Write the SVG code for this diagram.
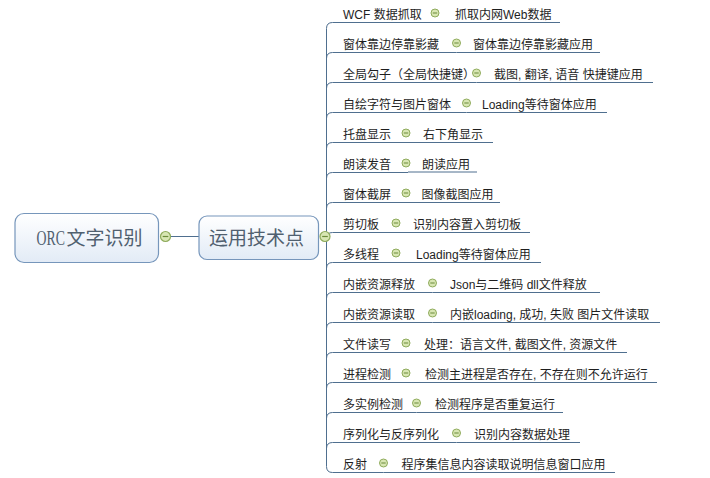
<svg xmlns="http://www.w3.org/2000/svg" xmlns:xlink="http://www.w3.org/1999/xlink" width="710" height="478" viewBox="0 0 710 478">
<defs>
<linearGradient id="boxfill" x1="0" y1="0" x2="0" y2="1">
<stop offset="0" stop-color="#ffffff"/>
<stop offset="1" stop-color="#e2ebf6"/>
</linearGradient>
<g id="tog">
<circle r="4" fill="#d8e6b3" stroke="#8fab5c" stroke-width="1"/>
<line x1="-2.2" y1="0" x2="2.2" y2="0" stroke="#6b8a3a" stroke-width="1"/>
</g>
<g id="togbig">
<circle r="5" fill="#d8e6b3" stroke="#8fab5c" stroke-width="1.2"/>
<line x1="-2.8" y1="0" x2="2.8" y2="0" stroke="#6b8a3a" stroke-width="1.2"/>
</g>
</defs>
<style>
.ln{fill:none;stroke:#4f6f8f;stroke-width:1}
.t{font-family:"Liberation Sans","Noto Sans CJK SC",sans-serif;font-size:12px;fill:#1e1e1e}
.box{fill:url(#boxfill);stroke:#7696bb;stroke-width:1.2}
.big{font-family:"Noto Sans CJK SC",sans-serif;font-size:19px;fill:#50606f}
.lat{font-family:"Liberation Serif",serif;font-size:20px;fill:#50606f}
</style>
<rect width="710" height="478" fill="#ffffff"/>

<g id="connectors">
<line class="ln" x1="167" y1="236.5" x2="199" y2="236.5"/>
<path class="ln" d="M326.5,28.5 V466.5"/>
<path class="ln" d="M326.5,28.5 Q326.5,22.5 332.5,22.5"/>
<path class="ln" d="M326.5,58.5 Q326.5,52.5 332.5,52.5"/>
<path class="ln" d="M326.5,88.5 Q326.5,82.5 332.5,82.5"/>
<path class="ln" d="M326.5,118.5 Q326.5,112.5 332.5,112.5"/>
<path class="ln" d="M326.5,148.5 Q326.5,142.5 332.5,142.5"/>
<path class="ln" d="M326.5,178.5 Q326.5,172.5 332.5,172.5"/>
<path class="ln" d="M326.5,208.5 Q326.5,202.5 332.5,202.5"/>
<path class="ln" d="M326.5,238.5 Q326.5,232.5 332.5,232.5"/>
<path class="ln" d="M326.5,268.5 Q326.5,262.5 332.5,262.5"/>
<path class="ln" d="M326.5,298.5 Q326.5,292.5 332.5,292.5"/>
<path class="ln" d="M326.5,328.5 Q326.5,322.5 332.5,322.5"/>
<path class="ln" d="M326.5,358.5 Q326.5,352.5 332.5,352.5"/>
<path class="ln" d="M326.5,388.5 Q326.5,382.5 332.5,382.5"/>
<path class="ln" d="M326.5,418.5 Q326.5,412.5 332.5,412.5"/>
<path class="ln" d="M326.5,448.5 Q326.5,442.5 332.5,442.5"/>
<path class="ln" d="M326.5,466.5 Q326.5,472.5 332.5,472.5"/>
</g>

<g id="root">
<rect class="box" x="15" y="213.5" width="143.5" height="49" rx="9"/>
<text class="lat" transform="translate(36.5,244.5) scale(0.69,1)">ORC</text>
<text x="66.5" y="244.5" class="big">文字识别</text>
<use xlink:href="#togbig" x="165.5" y="236.5"/>
</g>

<g id="main">
<rect class="box" x="199" y="216" width="119.5" height="43.5" rx="8"/>
<text x="256.5" y="244.5" class="big" text-anchor="middle">运用技术点</text>
<use xlink:href="#togbig" x="325" y="236.5"/>
</g>

<g id="n1"><line class="ln" x1="332.5" y1="22.5" x2="435" y2="22.5"/><text class="t" x="343" y="18.5">WCF 数据抓取</text><use xlink:href="#tog" x="435" y="13"/></g>
<g id="n1s"><line class="ln" x1="435" y1="22.5" x2="560" y2="22.5"/><text class="t" x="455" y="18.5">抓取内网Web数据</text></g>

<g id="n2"><line class="ln" x1="332.5" y1="52.5" x2="456.5" y2="52.5"/><text class="t" x="343" y="48.5">窗体靠边停靠影藏</text><use xlink:href="#tog" x="456.5" y="43"/></g>
<g id="n2s"><line class="ln" x1="456.5" y1="52.5" x2="600" y2="52.5"/><text class="t" x="473" y="48.5">窗体靠边停靠影藏应用</text></g>

<g id="n3"><line class="ln" x1="332.5" y1="82.5" x2="476.5" y2="82.5"/><text class="t" x="343" y="78.5">全局勾子（全局快捷键）</text><use xlink:href="#tog" x="476.5" y="73"/></g>
<g id="n3s"><line class="ln" x1="476.5" y1="82.5" x2="653" y2="82.5"/><text class="t" x="494" y="78.5">截图, 翻译, 语音 快捷键应用</text></g>

<g id="n4"><line class="ln" x1="332.5" y1="112.5" x2="466.5" y2="112.5"/><text class="t" x="343" y="108.5">自绘字符与图片窗体</text><use xlink:href="#tog" x="466.5" y="103"/></g>
<g id="n4s"><line class="ln" x1="466.5" y1="112.5" x2="607" y2="112.5"/><text class="t" x="482" y="108.5">Loading等待窗体应用</text></g>

<g id="n5"><line class="ln" x1="332.5" y1="142.5" x2="406" y2="142.5"/><text class="t" x="343" y="138.5">托盘显示</text><use xlink:href="#tog" x="406" y="133"/></g>
<g id="n5s"><line class="ln" x1="406" y1="142.5" x2="493" y2="142.5"/><text class="t" x="423" y="138.5">右下角显示</text></g>

<g id="n6"><line class="ln" x1="332.5" y1="172.5" x2="408" y2="172.5"/><text class="t" x="343" y="168.5">朗读发音</text><use xlink:href="#tog" x="406" y="163"/></g>
<g id="n6s"><line class="ln" x1="408" y1="172" x2="477" y2="172"/><text class="t" x="422" y="168.5">朗读应用</text></g>

<g id="n7"><line class="ln" x1="332.5" y1="202.5" x2="406" y2="202.5"/><text class="t" x="343" y="198.5">窗体截屏</text><use xlink:href="#tog" x="406" y="193"/></g>
<g id="n7s"><line class="ln" x1="406" y1="202.5" x2="500" y2="202.5"/><text class="t" x="421.5" y="198.5">图像截图应用</text></g>

<g id="n8"><line class="ln" x1="332.5" y1="232.5" x2="396" y2="232.5"/><text class="t" x="343" y="228.5">剪切板</text><use xlink:href="#tog" x="396" y="223"/></g>
<g id="n8s"><line class="ln" x1="396" y1="232.5" x2="530" y2="232.5"/><text class="t" x="413" y="228.5">识别内容置入剪切板</text></g>

<g id="n9"><line class="ln" x1="332.5" y1="262.5" x2="396" y2="262.5"/><text class="t" x="343" y="258.5">多线程</text><use xlink:href="#tog" x="396" y="253"/></g>
<g id="n9s"><line class="ln" x1="396" y1="262.5" x2="541" y2="262.5"/><text class="t" x="416" y="258.5">Loading等待窗体应用</text></g>

<g id="n10"><line class="ln" x1="332.5" y1="292.5" x2="432.5" y2="292.5"/><text class="t" x="343" y="288.5">内嵌资源释放</text><use xlink:href="#tog" x="432.5" y="283"/></g>
<g id="n10s"><line class="ln" x1="432.5" y1="292.5" x2="600" y2="292.5"/><text class="t" x="450" y="288.5">Json与二维码 dll文件释放</text></g>

<g id="n11"><line class="ln" x1="332.5" y1="322.5" x2="432.5" y2="322.5"/><text class="t" x="343" y="318.5">内嵌资源读取</text><use xlink:href="#tog" x="432.5" y="313"/></g>
<g id="n11s"><line class="ln" x1="432.5" y1="322.5" x2="660" y2="322.5"/><text class="t" x="450" y="318.5">内嵌loading, 成功, 失败 图片文件读取</text></g>

<g id="n12"><line class="ln" x1="332.5" y1="352.5" x2="406" y2="352.5"/><text class="t" x="343" y="348.5">文件读写</text><use xlink:href="#tog" x="406" y="343"/></g>
<g id="n12s"><line class="ln" x1="406" y1="352.5" x2="627" y2="352.5"/><text class="t" x="424" y="348.5">处理：语言文件, 截图文件, 资源文件</text></g>

<g id="n13"><line class="ln" x1="332.5" y1="382.5" x2="406" y2="382.5"/><text class="t" x="343" y="378.5">进程检测</text><use xlink:href="#tog" x="406" y="373"/></g>
<g id="n13s"><line class="ln" x1="406" y1="382.5" x2="657" y2="382.5"/><text class="t" x="425" y="378.5">检测主进程是否存在, 不存在则不允许运行</text></g>

<g id="n14"><line class="ln" x1="332.5" y1="412.5" x2="416.5" y2="412.5"/><text class="t" x="343" y="408.5">多实例检测</text><use xlink:href="#tog" x="416.5" y="403"/></g>
<g id="n14s"><line class="ln" x1="416.5" y1="412.5" x2="563" y2="412.5"/><text class="t" x="435" y="408.5">检测程序是否重复运行</text></g>

<g id="n15"><line class="ln" x1="332.5" y1="442.5" x2="456.5" y2="442.5"/><text class="t" x="343" y="438.5">序列化与反序列化</text><use xlink:href="#tog" x="456.5" y="433"/></g>
<g id="n15s"><line class="ln" x1="456.5" y1="442.5" x2="580" y2="442.5"/><text class="t" x="474" y="438.5">识别内容数据处理</text></g>

<g id="n16"><line class="ln" x1="332.5" y1="472.5" x2="383.5" y2="472.5"/><text class="t" x="343" y="468.5">反射</text><use xlink:href="#tog" x="383.5" y="463"/></g>
<g id="n16s"><line class="ln" x1="383.5" y1="472.5" x2="615" y2="472.5"/><text class="t" x="401.5" y="468.5">程序集信息内容读取说明信息窗口应用</text></g>
</svg>
